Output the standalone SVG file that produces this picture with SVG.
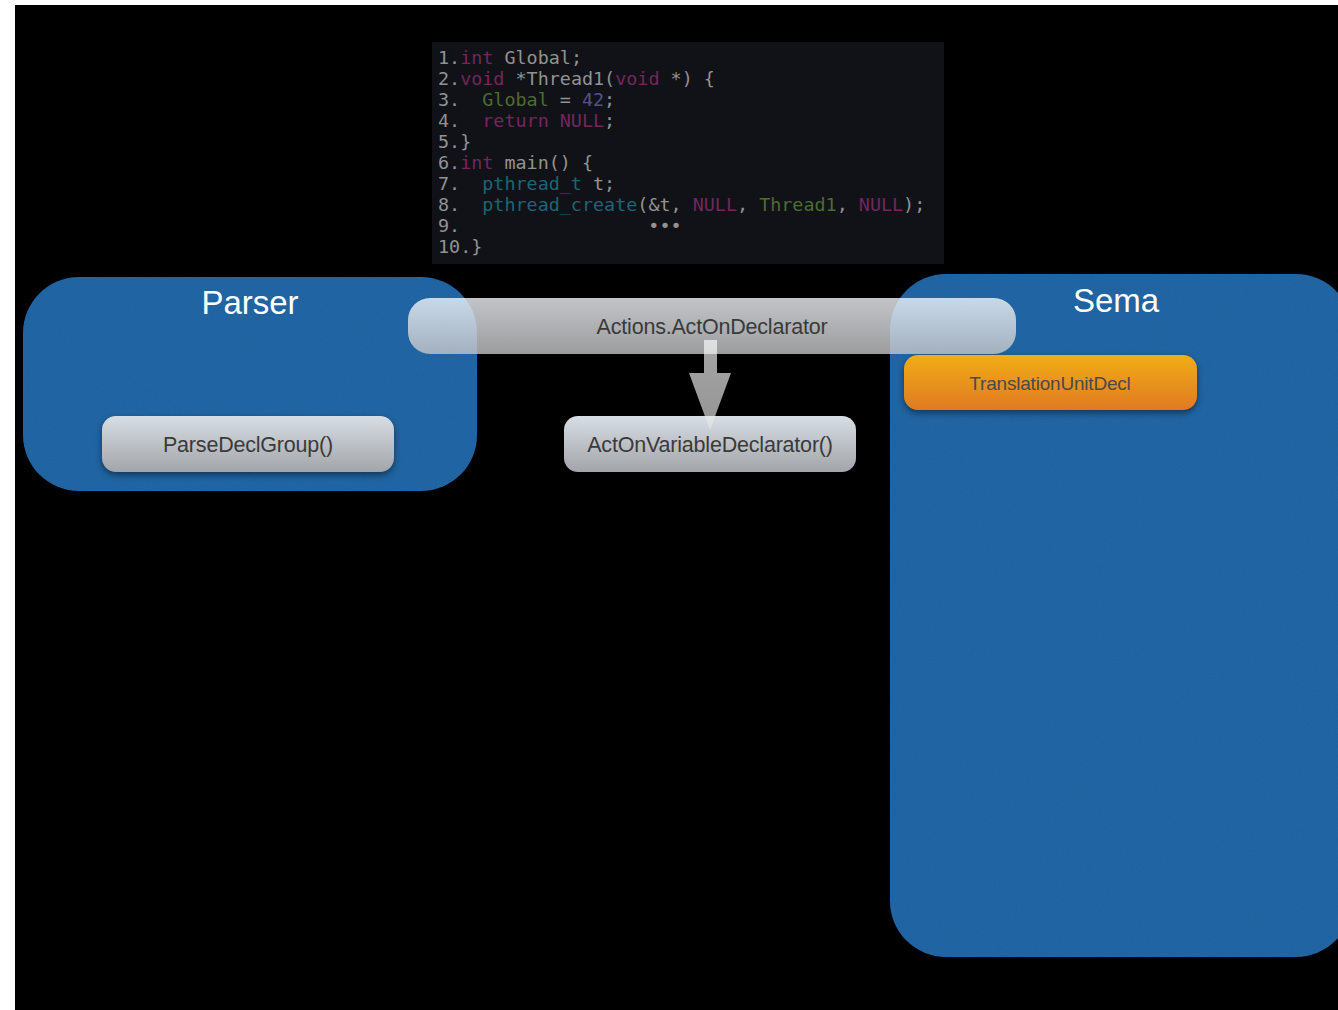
<svg xmlns="http://www.w3.org/2000/svg" width="1338" height="1010" viewBox="0 0 1338 1010">
  <defs>
    <linearGradient id="gGray" x1="0" y1="0" x2="0" y2="1">
      <stop offset="0" stop-color="#d8dee5"/>
      <stop offset="1" stop-color="#a2a5a9"/>
    </linearGradient>
    <linearGradient id="gBar" x1="0" y1="0" x2="0" y2="1">
      <stop offset="0" stop-color="#f2f6fa"/>
      <stop offset="1" stop-color="#c4c4c6"/>
    </linearGradient>
    <linearGradient id="gOrange" x1="0" y1="0" x2="0" y2="1">
      <stop offset="0" stop-color="#f1ad17"/>
      <stop offset="1" stop-color="#e07a22"/>
    </linearGradient>
    <linearGradient id="gArrow" x1="0" y1="0" x2="0" y2="1">
      <stop offset="0" stop-color="#ffffff"/>
      <stop offset="1" stop-color="#e4e4e4"/>
    </linearGradient>
    <filter id="grain" x="0" y="0" width="1" height="1" color-interpolation-filters="sRGB">
      <feTurbulence type="fractalNoise" baseFrequency="0.85" numOctaves="2" seed="3" result="n"/>
      <feColorMatrix in="n" type="matrix" values="0 0 0 0 0.35  0 0 0 0 0.55  0 0 0 0 0.8  0 0 0 0.12 0" result="w"/>
      <feComposite in="w" in2="SourceGraphic" operator="in" result="wn"/>
      <feMerge><feMergeNode in="SourceGraphic"/><feMergeNode in="wn"/></feMerge>
    </filter>
    <filter id="shadow" x="-10%" y="-20%" width="120%" height="160%" color-interpolation-filters="sRGB">
      <feDropShadow dx="0" dy="3" stdDeviation="3" flood-color="#000" flood-opacity="0.45"/>
    </filter>
  </defs>
  <style>
    .code { font-family: "DejaVu Sans Mono", "Liberation Mono", monospace; font-size: 18.4px; fill: #929292; white-space: pre; }
    .kw { fill: #74265d; }
    .gr { fill: #4c6c30; }
    .nm { fill: #52528a; }
    .ty { fill: #1a6676; }
    .title { font-family: "Liberation Sans", Arial, sans-serif; font-size: 33px; fill: #ffffff; text-anchor: middle; }
    .lbl { font-family: "Liberation Sans", Arial, sans-serif; font-size: 21.5px; fill: #3a3a3a; text-anchor: middle; letter-spacing: -0.2px; }
    .container { fill: #1d62a0; }
    .box { fill: url(#gGray); filter: url(#shadow); }
  </style>

  <!-- page background -->
  <rect x="0" y="0" width="1338" height="1010" fill="#ffffff"/>
  <rect x="15" y="5" width="1323" height="1005" fill="#000000"/>

  <!-- source listing -->
  <g id="code">
    <rect x="432" y="42" width="512" height="222" fill="#111217"/>
    <text class="code" x="438" y="64">1.<tspan class="kw">int</tspan> Global;</text>
    <text class="code" x="438" y="85">2.<tspan class="kw">void</tspan> *Thread1(<tspan class="kw">void</tspan> *) {</text>
    <text class="code" x="438" y="106">3.  <tspan class="gr">Global</tspan> = <tspan class="nm">42</tspan>;</text>
    <text class="code" x="438" y="127">4.  <tspan class="kw">return NULL</tspan>;</text>
    <text class="code" x="438" y="148">5.}</text>
    <text class="code" x="438" y="169">6.<tspan class="kw">int</tspan> main() {</text>
    <text class="code" x="438" y="190">7.  <tspan class="ty">pthread_t</tspan> t;</text>
    <text class="code" x="438" y="211">8.  <tspan class="ty">pthread_create</tspan>(&amp;t, <tspan class="kw">NULL</tspan>, <tspan class="gr">Thread1</tspan>, <tspan class="kw">NULL</tspan>);</text>
    <text class="code" x="438" y="232">9.                 •••</text>
    <text class="code" x="438" y="253">10.}</text>
  </g>

  <!-- Parser container -->
  <g id="parser">
    <rect class="container" x="23" y="277" width="454" height="214" rx="56" ry="56" filter="url(#grain)"/>
    <text class="title" x="250" y="314">Parser</text>
  </g>

  <!-- Sema container -->
  <g id="sema">
    <rect class="container" x="890" y="274" width="462" height="683" rx="56" ry="56" filter="url(#grain)"/>
    <text class="title" x="1116" y="312">Sema</text>
  </g>

  <g id="parseDeclGroup">
    <rect class="box" x="102" y="416" width="292" height="56" rx="14" ry="14"/>
    <text class="lbl" x="248" y="452">ParseDeclGroup()</text>
  </g>

  <g id="actOnVariableDeclarator">
    <rect class="box" x="564" y="416" width="292" height="56" rx="14" ry="14"/>
    <text class="lbl" x="710" y="452">ActOnVariableDeclarator()</text>
  </g>

  <g id="translationUnitDecl">
    <rect x="904" y="355" width="293" height="55" rx="14" ry="14" fill="url(#gOrange)" filter="url(#shadow)"/>
    <text class="lbl" x="1050" y="390" style="font-size:19px; fill:#4a4a4a">TranslationUnitDecl</text>
  </g>

  <!-- translucent call bar spanning both containers -->
  <g id="actOnDeclarator">
    <rect x="408" y="298" width="608" height="56" rx="22" ry="22" fill="url(#gBar)" opacity="0.8"/>
    <text class="lbl" x="712" y="334">Actions.ActOnDeclarator</text>
  </g>

  <!-- connectors -->
  <g id="connectors">
    <path d="M704,340 L717,340 L717,373 L731,373 L710,430 L689,373 L704,373 Z" fill="url(#gArrow)" opacity="0.65"/>
  </g>
</svg>
